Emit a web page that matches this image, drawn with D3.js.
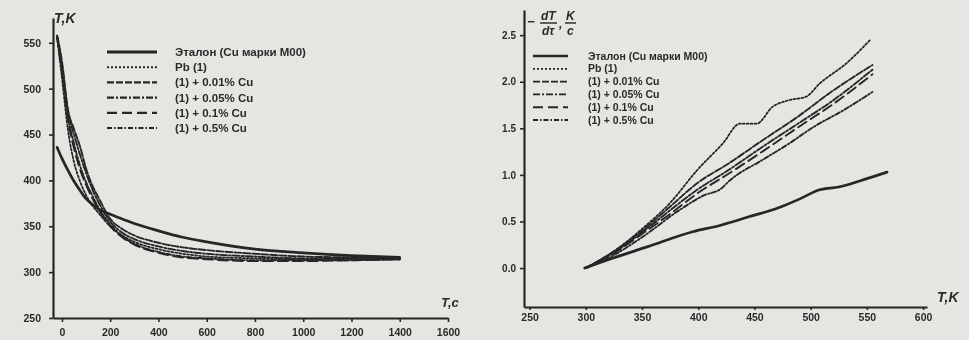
<!DOCTYPE html>
<html><head><meta charset="utf-8">
<script src="https://cdn.jsdelivr.net/npm/d3@7"></script>
<style>
html,body{margin:0;padding:0;background:#e5e6e2;}
svg{display:block;}
text{font-family:"Liberation Sans",Arial,sans-serif;font-weight:bold;fill:#2a2a2a;}
</style></head><body>
<svg id="c" width="969" height="340"></svg>
<script>
// ---------- DATA ----------
const seriesNames = ["Эталон (Cu марки М00)", "Pb (1)", "(1) + 0.01% Cu", "(1) + 0.05% Cu", "(1) + 0.1% Cu", "(1) + 0.5% Cu"];
const dashes = [null, "2,2", "7,2", "7,2,2,2", "10,5", "5,2,1.5,2"];
const widths = [2.7, 1.8, 1.9, 1.9, 1.9, 1.9];

// left chart: cooling curves T(τ)
const timeLeft = [-20, 0, 25, 50, 75, 100, 125, 150, 200, 250, 300, 400, 500, 600, 800, 1000, 1200, 1400];
const tEtalon = [436, 424, 411, 399, 389, 380, 374, 369, 363, 358, 353, 345, 338, 333, 325, 321, 318, 316];
const tPb     = [556, 512, 455, 420, 399, 384, 373, 365, 350, 340, 333, 325, 320, 317, 315, 314, 314, 314];
const tCu001  = [558, 530, 477, 456, 437, 413, 395, 382, 358, 347, 340, 332, 327, 324, 320, 317, 316, 315];
const tCu005  = [557, 525, 475, 450, 428, 408, 391, 377, 355, 343, 336, 328, 323, 320, 317, 315, 315, 314];
const tCu01   = [556, 518, 466, 435, 412, 395, 381, 369, 350, 338, 330, 321, 316, 314, 312, 312, 313, 314];
const tCu05   = [557, 522, 470, 440, 416, 398, 384, 371, 352, 339, 331, 322, 317, 315, 313, 313, 313, 314];
const leftSeries = [tEtalon, tPb, tCu001, tCu005, tCu01, tCu05];

// right chart: cooling rate -dT/dτ vs T
const rTEtalon = [299, 325, 355, 395, 420, 445, 472, 490, 508, 525, 545, 568];
const rVEtalon = [0, 0.11, 0.23, 0.39, 0.46, 0.55, 0.65, 0.74, 0.84, 0.87, 0.94, 1.03];
const rTPb = [300, 325, 350, 375, 399, 422, 437, 452, 466, 480, 496, 508, 532, 553];
const rVPb = [0, 0.18, 0.42, 0.70, 1.05, 1.34, 1.55, 1.55, 1.73, 1.80, 1.84, 1.98, 2.20, 2.45];
const rTCu001 = [300, 325, 354, 375, 399, 428, 457, 488, 517, 555];
const rVCu001 = [0, 0.18, 0.44, 0.66, 0.91, 1.13, 1.37, 1.62, 1.88, 2.18];
const rTCu005 = [300, 325, 354, 375, 399, 428, 457, 490, 520, 555];
const rVCu005 = [0, 0.17, 0.42, 0.62, 0.84, 1.06, 1.30, 1.56, 1.80, 2.13];
const rTCu01 = [300, 325, 354, 375, 399, 428, 457, 490, 520, 555];
const rVCu01 = [0, 0.16, 0.40, 0.58, 0.80, 1.02, 1.25, 1.52, 1.76, 2.08];
const rTCu05 = [300, 325, 350, 383, 405, 420, 428, 457, 480, 502, 530, 555];
const rVCu05 = [0, 0.14, 0.33, 0.62, 0.78, 0.85, 0.94, 1.16, 1.33, 1.51, 1.70, 1.89];
const rightT = [rTEtalon, rTPb, rTCu001, rTCu005, rTCu01, rTCu05];
const rightV = [rVEtalon, rVPb, rVCu001, rVCu005, rVCu01, rVCu05];

const leftXTicks = [0, 200, 400, 600, 800, 1000, 1200, 1400, 1600];
const leftYTicks = [250, 300, 350, 400, 450, 500, 550];
const rightXTicks = [250, 300, 350, 400, 450, 500, 550, 600];
const rightYTicks = [0, 0.5, 1.0, 1.5, 2.0, 2.5];

// ---------- DRAW ----------
const svg = d3.select("#c");
const ink = "#262626";
const narrow = "'Liberation Sans Narrow','Liberation Sans',Arial,sans-serif";
const defs = svg.append("defs");
defs.append("filter").attr("id","blur").append("feGaussianBlur").attr("stdDeviation",0.5);
const root = svg.append("g").attr("filter","url(#blur)");

function styleAxis(a, size){
  a.select(".domain").attr("stroke",ink).attr("stroke-width",2.2);
  a.selectAll(".tick line").attr("stroke",ink).attr("stroke-width",1.6);
  a.selectAll(".tick text").attr("fill","#2a2a2a").style("font-size",size).style("font-weight","bold")
    .style("font-family","'Liberation Sans',Arial,sans-serif");
}

// ----- left chart -----
const xL = d3.scaleLinear().domain([-37, 1600]).range([53, 448]);
const yL = d3.scaleLinear().domain([250, 577]).range([318, 18]);

const gL = root.append("g");
const axXL = gL.append("g").attr("transform","translate(0,318)")
  .call(d3.axisBottom(xL).tickValues(leftXTicks).tickSize(4).tickSizeOuter(0).tickFormat(d3.format("d")));
const axYL = gL.append("g").attr("transform","translate(53,0)")
  .call(d3.axisLeft(yL).tickValues(leftYTicks).tickSize(4).tickSizeOuter(0).tickFormat(d3.format("d")));
styleAxis(axXL,"10.5px"); styleAxis(axYL,"10.5px");
axXL.selectAll(".tick text").attr("dy","1.05em");
axYL.selectAll(".tick text").attr("x",-12);

const lineL = d3.line().x((d,i)=>xL(timeLeft[i])).y(d=>yL(d)).curve(d3.curveMonotoneX);
leftSeries.forEach((s,k)=>{
  gL.append("path").datum(s).attr("d",lineL).attr("fill","none").attr("stroke",ink)
    .attr("stroke-width",widths[k]).attr("stroke-dasharray",dashes[k]).attr("stroke-linecap","round");
});

// left legend
const legL = gL.append("g");
seriesNames.forEach((n,k)=>{
  const y = 52 + k*15.2;
  legL.append("line").attr("x1",107).attr("x2",157).attr("y1",y).attr("y2",y)
    .attr("stroke",ink).attr("stroke-width",widths[k]+0.3).attr("stroke-dasharray",dashes[k]);
  legL.append("text").attr("x",175).attr("y",y+4).style("font-size","11.5px")
    .style("font-family",narrow).text(n);
});
gL.append("text").attr("x",54).attr("y",23).style("font-size","14px").style("font-style","italic").text("T,K");
gL.append("text").attr("x",441).attr("y",307).style("font-size","13px").style("font-style","italic").text("T,c");

// ----- right chart -----
const xR = d3.scaleLinear().domain([245, 603.5]).range([524, 927]);
const yR = d3.scaleLinear().domain([-0.418, 2.77]).range([307, 10]);
const gR = root.append("g");
const axXR = gR.append("g").attr("transform","translate(0,307)")
  .call(d3.axisBottom(xR).tickValues(rightXTicks).tickSize(3).tickSizeOuter(0).tickFormat(d3.format("d")));
const axYR = gR.append("g").attr("transform","translate(524,0)")
  .call(d3.axisLeft(yR).tickValues(rightYTicks).tickSize(4).tickSizeOuter(0).tickFormat(d3.format(".1f")));
styleAxis(axXR,"10.5px"); styleAxis(axYR,"10px");
axXR.selectAll(".tick text").attr("dy","0.8em");
axYR.selectAll(".tick text").attr("x",-8);

rightT.forEach((ts,k)=>{
  const vs = rightV[k];
  const ln = d3.line().x((d,i)=>xR(ts[i])).y(d=>yR(d)).curve(d3.curveMonotoneX);
  gR.append("path").datum(vs).attr("d",ln).attr("fill","none").attr("stroke",ink)
    .attr("stroke-width",widths[k]).attr("stroke-dasharray",dashes[k]).attr("stroke-linecap","round");
});

// right legend
const legR = gR.append("g");
seriesNames.forEach((n,k)=>{
  const y = 56 + k*12.8;
  legR.append("line").attr("x1",533).attr("x2",568).attr("y1",y).attr("y2",y)
    .attr("stroke",ink).attr("stroke-width",widths[k]).attr("stroke-dasharray",dashes[k]);
  legR.append("text").attr("x",588).attr("y",y+3.5).style("font-size","10.5px")
    .style("font-family",narrow).text(n);
});
// y label  −dT/dτ , K/c
const yl = gR.append("g").style("font-style","italic");
yl.append("text").attr("x",527).attr("y",26).style("font-size","13px").text("−");
yl.append("text").attr("x",541).attr("y",20).style("font-size","12px").text("dT");
yl.append("line").attr("x1",540).attr("x2",557).attr("y1",23).attr("y2",23).attr("stroke",ink).attr("stroke-width",1.4);
yl.append("text").attr("x",542).attr("y",35).style("font-size","12px").text("dτ");
yl.append("text").attr("x",559).attr("y",28).style("font-size","12px").text(",");
yl.append("text").attr("x",566).attr("y",20).style("font-size","12px").text("K");
yl.append("line").attr("x1",565).attr("x2",576).attr("y1",23).attr("y2",23).attr("stroke",ink).attr("stroke-width",1.4);
yl.append("text").attr("x",567).attr("y",35).style("font-size","12px").text("c");
gR.append("text").attr("x",937).attr("y",302).style("font-size","14px").style("font-style","italic").text("T,K");
</script>
</body></html>
